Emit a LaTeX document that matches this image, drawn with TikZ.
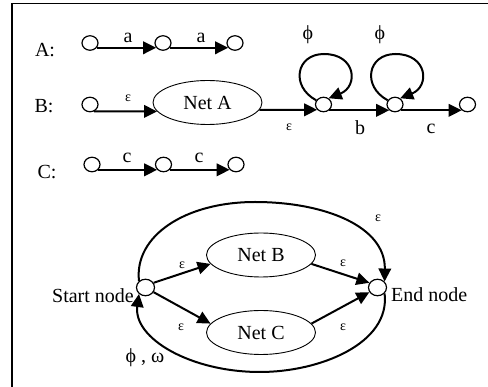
\documentclass[tikz,border=0pt]{standalone}
\usepackage{fontspec}
\setmainfont{Liberation Serif}
\usetikzlibrary{arrows.meta,shapes.geometric}
\begin{document}
\begin{tikzpicture}[x=1pt,y=-1pt,
  st/.style={draw,ellipse,line width=1.2pt,minimum width=16pt,minimum height=14.5pt,inner sep=0pt},
  bst/.style={draw,ellipse,line width=1.2pt,minimum width=18pt,minimum height=16.5pt,inner sep=0pt},
  net/.style={draw,ellipse,line width=0.9pt,minimum width=109pt,minimum height=44pt,inner sep=0pt,font=\fontsize{20}{24}\selectfont},
  arr/.style={line width=2pt,-{Triangle[length=13pt,width=12.5pt]}},
  lbl/.style={font=\fontsize{20}{24}\selectfont,inner sep=0pt},
  eps/.style={font=\fontsize{14}{16}\selectfont,inner sep=0pt}
]
\useasboundingbox (0,0) rectangle (488,387);
% frame
\coordinate (fb) at (12,388);
\coordinate (fc) at (12,3.5);
\coordinate (fr) at (489,3.5);
\draw[line width=1.6pt] (fb) -- (fc) -- (fr);

% row A
\node[lbl] (la) at (45,50) {A:};
\node[st] (a1) at (90,43) {};
\node[st] (a2) at (163,43) {};
\node[st] (a3) at (235,43) {};
\draw[arr] (a1.-35) -- (a2.215);
\draw[arr] (a2.-35) -- (a3.215);
\node[lbl] (ta1) at (128,37.5) {a};
\node[lbl] (ta2) at (201,37.5) {a};

% row B
\node[lbl] (lb) at (44,106) {B:};
\node[st] (b0) at (90,104.5) {};
\node[net] (na) at (207.5,102.5) {Net A};
\node[st] (b1) at (323.5,104.5) {};
\node[st] (b2) at (395,104.5) {};
\node[st] (b3) at (467.5,104.5) {};
\draw[arr] (b0.-60) -- (na.190);
\draw[arr] (na.-8) -- (b1.-140);
\draw[arr] (b1.-45) -- (b2.-135);
\draw[arr] (b2.-45) -- (b3.-135);
\node[eps] (tb0) at (128,98) {ε};
\node[eps] (tb1) at (289,127) {ε};
\node[lbl] (tb2) at (360,128) {b};
\node[lbl] (tb3) at (431,129) {c};
\coordinate (t1) at (324,54);
\coordinate (t2) at (395.5,54);
\draw[arr] (b1.150) .. controls +(-26,-14) and +(-28,0) .. (t1)
  .. controls +(32,0) and +(30,-12) .. (b1.50);
\draw[arr] (b2.150) .. controls +(-26,-14) and +(-28,0) .. (t2)
  .. controls +(32,0) and +(30,-12) .. (b2.50);
\node[lbl] (ph1) at (308,35) {ϕ};
\node[lbl] (ph2) at (380,35) {ϕ};

% row C
\node[lbl] (lc) at (47,172) {C:};
\node[st] (c1) at (92,164.5) {};
\node[st] (c2) at (163.5,164.5) {};
\node[st] (c3) at (236,164.5) {};
\draw[arr] (c1.-40) -- (c2.220);
\draw[arr] (c2.-40) -- (c3.220);
\node[lbl] (tc1) at (127,158) {c};
\node[lbl] (tc2) at (199,158) {c};

% bottom net
\node[bst] (sn) at (145.5,287.5) {};
\node[bst] (en) at (377.5,287.5) {};
\node[net] (nb) at (261,255) {Net B};
\node[net] (nc) at (261,332.5) {Net C};
\node[lbl,anchor=east] (stxt) at (134,296) {Start node};
\node[lbl,anchor=west] (etxt) at (391,295) {End node};
\draw[arr] (sn.30) -- (nb.190);
\draw[arr] (sn.-30) -- (nc.170);
\draw[arr] (nb.-10) -- (en.150);
\draw[arr] (nc.10) -- (en.-150);
\node[eps] (e1) at (182,265) {ε};
\node[eps] (e2) at (181,327) {ε};
\node[eps] (e3) at (343,263) {ε};
\node[eps] (e4) at (343,327) {ε};
\coordinate (tt) at (255,202);
\coordinate (bb) at (260,372);
\draw[arr] (sn.135) .. controls +(-5,-45) and +(-70,0) .. (tt)
  .. controls +(70,0) and +(1,-55) .. (en.40);
\draw[arr] (en.-40) .. controls +(6,50) and +(60,0) .. (bb)
  .. controls +(-70,0) and +(-6,44) .. (sn.-135);
\node[eps] (e5) at (378,218) {ε};
\node[lbl] (pw) at (145,358) {ϕ , ω};
\end{tikzpicture}
\end{document}
